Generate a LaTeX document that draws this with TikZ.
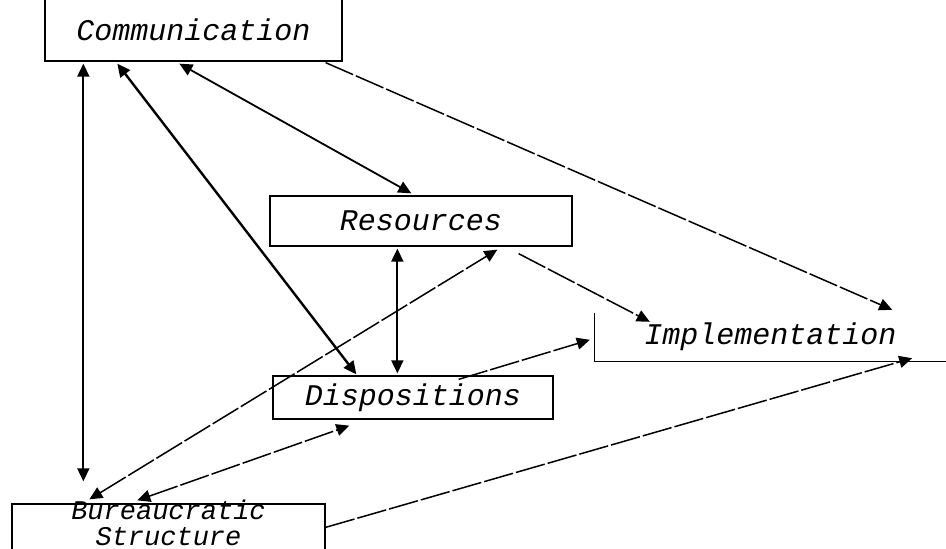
\documentclass[tikz,border=0pt]{standalone}
\usepackage{fontspec}
\newfontfamily\boxfont{Liberation Mono}
\usetikzlibrary{arrows.meta,calc}

\begin{document}
\begin{tikzpicture}[x=1pt, y=-1pt, >={Triangle[length=13pt,width=12pt]},
  every node/.style={font=\boxfont\itshape\fontsize{30}{22}\selectfont, align=center},
  box/.style={draw, line width=1.3pt, inner sep=0pt},
  link/.style={<->, line width=1.8pt},
  weak/.style={line width=1.5pt, dash pattern=on 30pt off 3pt}]
  \useasboundingbox[fill=white] (0,0) rectangle (946,549);
  \node[box, minimum width=297pt, minimum height=63pt] (comm) at (193.5,29.5) {Communication};
  \node[box, minimum width=302pt, minimum height=50pt] (res) at (421,221) {Resources};
  \node[box, minimum width=280pt, minimum height=43pt] (disp) at (413,397.5) {Dispositions};
  \node[inner sep=0pt, minimum width=351pt, minimum height=48pt] (impl) at (770.5,337) {Implementation};
  \draw[line width=1.3pt] (impl.north west) -- (impl.south west) -- (impl.south east);
  \node[box, minimum width=313pt, minimum height=60pt, text height=41pt, text depth=19pt,
    font=\boxfont\itshape\fontsize{27}{26}\selectfont] (bur) at (168.5,534) {Bureaucratic\\Structure};
  \draw[link] ($(comm.south west)+(39,2)$) -- ($(bur.north west)+(72,-22)$);
  \draw[link, line width=2.4pt] ($(comm.south west)+(73,2)$) -- ($(disp.north west)+(84,-1)$);
  \draw[link] ($(comm.south west)+(135,2)$) -- ($(res.north west)+(142,-2)$);
  \draw[link] ($(res.south west)+(128,2)$) -- ($(disp.north west)+(125,-2)$);
  \draw[weak, ->] ($(comm.south east)+(-17,1)$) -- ($(impl.north east)+(-54,-3)$);
  \draw[weak, ->] ($(res.south east)+(-54,7)$) -- ($(impl.north west)+(55,9)$);
  \draw[weak, <->] ($(bur.north west)+(78,-4)$) -- ($(res.south west)+(228,3)$);
  \draw[weak, <->] ($(bur.north west)+(126,-3)$) -- ($(disp.south west)+(77,6)$);
  \draw[weak, ->] ($(disp.north east)+(-95,4)$) -- ($(impl.north west)+(-5,27)$);
  \draw[weak, ->] ($(bur.north east)+(0,24)$) -- ($(impl.south east)+(-34,-3)$);
\end{tikzpicture}
\end{document}
